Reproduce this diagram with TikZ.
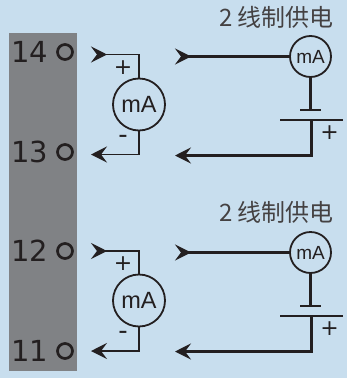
\documentclass[tikz,border=0pt]{standalone}
\usepackage{fontspec}
\setmainfont{DejaVu Sans}
\newfontfamily\cjkfont{Noto Sans CJK SC}
\newfontfamily\meterfont{Liberation Sans}
\usetikzlibrary{arrows.meta}
\definecolor{panelblue}{HTML}{C8DEEE}
\definecolor{stripgray}{HTML}{808285}
\definecolor{inkdark}{HTML}{231F20}
\tikzset{
    wire/.style={inkdark, line width=1.8pt},
    supply/.style={inkdark, line width=2.2pt},
    tipin/.style={{Stealth[reversed, length=16pt, width=16pt, inset=6pt]}-},
    tipout/.style={{Stealth[length=16pt, width=16pt, inset=6pt]}-},
    pin/.style={circle, draw=inkdark, line width=2.7pt, minimum size=15pt, inner sep=0pt},
    pinlabel/.style={inkdark, font=\fontsize{29}{29}\selectfont, inner sep=0pt},
    meterbig/.style={circle, draw=inkdark, line width=1.8pt, minimum size=52pt, inner sep=0pt, font=\meterfont\fontsize{23.5}{23.5}\selectfont, text=inkdark},
    metersmall/.style={circle, draw=inkdark, line width=1.8pt, minimum size=41pt, inner sep=0pt, font=\meterfont\fontsize{19}{19}\selectfont, text=inkdark},
    plate/.style={fill=inkdark, minimum height=2.5pt, inner sep=0pt, outer sep=0pt},
    sign/.style={inkdark, font=\fontsize{22}{22}\selectfont, inner sep=0pt},
    dashsign/.style={inkdark, font=\fontsize{26}{26}\selectfont, inner sep=0pt},
    caption/.style={text=inkdark!85, font=\cjkfont\fontsize{24}{24}\selectfont, inner sep=0pt, anchor=east}
}
\begin{document}
\begin{tikzpicture}[x=1pt, y=-1pt]
    % Background and terminal strip
    \useasboundingbox (0,0) rectangle (347,378);
    \fill[panelblue] (0,0) rectangle (347,378);
    \fill[stripgray] (9,33) rectangle (77,371);

    % Terminals
    \node[pinlabel] (labelA) at (29.5,52) {14};
    \node[pin] (pinA) at (65,52) {};
    \node[pinlabel] (labelB) at (29.5,152) {13};
    \node[pin] (pinB) at (65,152) {};
    \node[pinlabel] (labelC) at (29.5,251) {12};
    \node[pin] (pinC) at (65,251) {};
    \node[pinlabel] (labelD) at (29.5,351) {11};
    \node[pin] (pinD) at (65,351) {};

    % Captions
    \node[caption] (captionA) at (334,17) {2 线制供电};
    \node[caption] (captionB) at (334,212) {2 线制供电};

    % Upper pair, left meter
    \coordinate (inA) at (91,54.5);
    \coordinate (outA) at (91,154.5);
    \node[meterbig] (loopA) at (139,104.5) {mA};
    \draw[wire, tipin] (inA) -| (loopA.north);
    \draw[wire, tipout] (outA) -| (loopA.south);
    \node[sign] (plusA) at (123,68) {+};
    \node[dashsign] (minusA) at (123,139) {-};

    % Upper pair, right meter and supply
    \coordinate (srcA) at (175,56.5);
    \coordinate (retA) at (175,155.5);
    \node[metersmall] (seriesA) at (310.5,56.5) {mA};
    \node[plate, minimum width=21pt] (shortA) at (310.5,110) {};
    \node[plate, minimum width=63pt] (longA) at (311.5,120) {};
    \draw[supply, tipin] (srcA) -- (seriesA.west);
    \draw[supply, line width=2.8pt] (seriesA.south) -- (shortA.north);
    \draw[supply, tipout] (retA) -| (longA.south);
    \node[sign] (plusB) at (329.5,133) {+};

    % Lower pair, left meter
    \coordinate (inB) at (91,251);
    \coordinate (outB) at (91,351);
    \node[meterbig] (loopB) at (139,300.5) {mA};
    \draw[wire, tipin] (inB) -| (loopB.north);
    \draw[wire, tipout] (outB) -| (loopB.south);
    \node[sign] (plusC) at (123,264) {+};
    \node[dashsign] (minusB) at (123,335) {-};

    % Lower pair, right meter and supply
    \coordinate (srcB) at (175,252.5);
    \coordinate (retB) at (175,351.5);
    \node[metersmall] (seriesB) at (310.5,252.5) {mA};
    \node[plate, minimum width=21pt] (shortB) at (310.5,306) {};
    \node[plate, minimum width=63pt] (longB) at (311.5,316) {};
    \draw[supply, tipin] (srcB) -- (seriesB.west);
    \draw[supply, line width=2.8pt] (seriesB.south) -- (shortB.north);
    \draw[supply, tipout] (retB) -| (longB.south);
    \node[sign] (plusD) at (329.5,329) {+};
\end{tikzpicture}
\end{document}
